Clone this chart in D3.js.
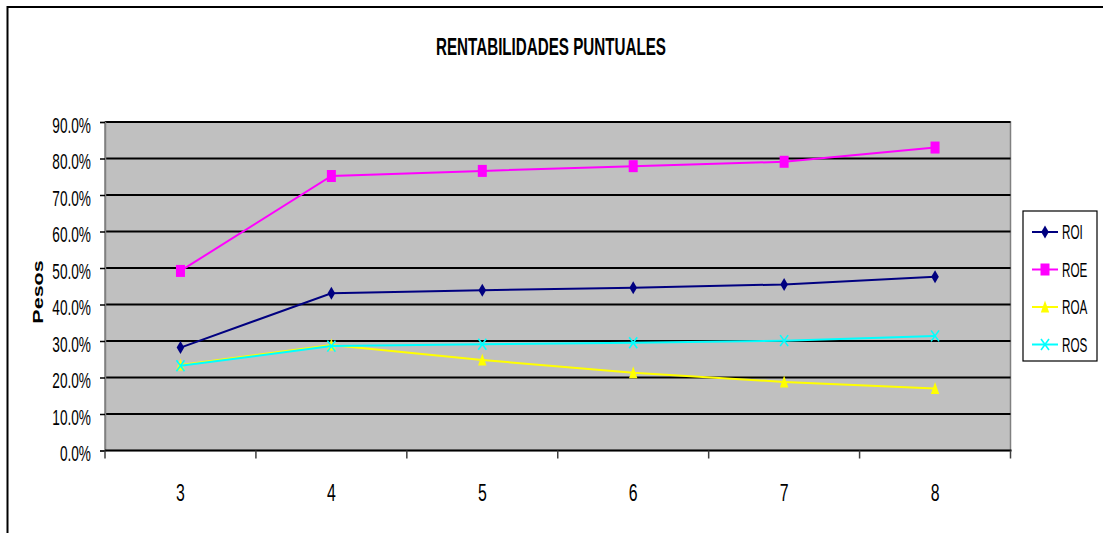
<!DOCTYPE html>
<html>
<head>
<meta charset="utf-8">
<script src="https://cdn.jsdelivr.net/npm/d3@7"></script>
<style>
  html, body { margin: 0; padding: 0; background: #fff; }
  svg { display: block; font-family: "Liberation Sans", Arial, sans-serif; }
</style>
</head>
<body>
<svg id="chart" width="1103" height="533"></svg>
<script>
// Periods on the horizontal axis
const categories = ["3", "4", "5", "6", "7", "8"];

// Ratios per period (fractions)
const roi = [0.282, 0.431, 0.439, 0.446, 0.455, 0.476];
const roe = [0.492, 0.752, 0.766, 0.779, 0.791, 0.830];
const roa = [0.234, 0.289, 0.248, 0.213, 0.188, 0.170];
const ros = [0.232, 0.286, 0.291, 0.295, 0.301, 0.314];

const seriesNames = ["ROI", "ROE", "ROA", "ROS"];
const seriesColors = ["#000080", "#FF00FF", "#FFFF00", "#00FFFF"];
const seriesMarkers = ["diamond", "square", "triangle", "cross"];

// Value axis tick values
const yTicks = [0, 0.1, 0.2, 0.3, 0.4, 0.5, 0.6, 0.7, 0.8, 0.9];

const series = seriesNames.map((name, i) => ({
  name,
  color: seriesColors[i],
  marker: seriesMarkers[i],
  values: [roi, roe, roa, ros][i]
}));

const svg = d3.select("#chart");
const plot = { left: 105, right: 1010.5, top: 122, bottom: 450.5 };
const SX = 0.62; // horizontal squeeze applied to glyphs

const x = d3.scaleBand().domain(categories).range([plot.left, plot.right]).padding(0);
const y = d3.scaleLinear().domain([0, 0.9]).range([plot.bottom, plot.top]);
const fmt = d3.format(".1%");

// Outer chart frame (top and left edges)
svg.append("path")
  .attr("d", "M7.5,533 L7.5,7 L1103,7")
  .attr("fill", "none").attr("stroke", "#000").attr("stroke-width", 2);

// Plot background
svg.append("rect")
  .attr("x", plot.left).attr("y", plot.top)
  .attr("width", plot.right - plot.left).attr("height", plot.bottom - plot.top)
  .attr("fill", "#C0C0C0").attr("stroke", "#808080").attr("stroke-width", 1.5);

// Horizontal gridlines
svg.append("g").selectAll("line").data(yTicks.slice(1)).join("line")
  .attr("x1", plot.left).attr("x2", plot.right)
  .attr("y1", d => y(d)).attr("y2", d => y(d))
  .attr("stroke", "#000").attr("stroke-width", 2);

// Value axis
const yAxis = svg.append("g")
  .attr("transform", `translate(${plot.left},0)`)
  .call(d3.axisLeft(y).tickValues(yTicks).tickFormat(fmt).tickSize(5).tickPadding(0));
yAxis.select(".domain").attr("stroke", "#808080").attr("stroke-width", 1.5);
yAxis.selectAll(".tick line").attr("stroke", "#000").attr("stroke-width", 1.5);
yAxis.selectAll(".tick text")
  .attr("x", null).attr("dy", null)
  .attr("font-size", 22).attr("fill", "#000")
  .attr("text-anchor", "end")
  .attr("transform", `translate(-14,10) scale(${SX},1)`);

// Category axis
const xAxis = svg.append("g")
  .attr("transform", `translate(0,${plot.bottom})`);
xAxis.append("line")
  .attr("x1", plot.left).attr("x2", plot.right + 1)
  .attr("stroke", "#000").attr("stroke-width", 2);
const edges = categories.map(c => x(c)).concat([x(categories[categories.length - 1]) + x.bandwidth()]);
xAxis.selectAll(".edge").data(edges).join("line")
  .attr("class", "edge")
  .attr("x1", d => d).attr("x2", d => d)
  .attr("y1", 0).attr("y2", 8)
  .attr("stroke", "#404040").attr("stroke-width", 1.5);
xAxis.selectAll("text").data(categories).join("text")
  .attr("font-size", 24).attr("fill", "#000").attr("text-anchor", "middle")
  .attr("transform", d => `translate(${x(d) + x.bandwidth() / 2},50) scale(${SX + 0.04},1)`)
  .text(d => d);

// Axis title
svg.append("text")
  .attr("font-size", 21.5).attr("font-weight", "bold").attr("text-anchor", "middle")
  .attr("transform", `translate(43,292) scale(0.69,1) rotate(-90)`)
  .text("Pesos");

// Chart title
svg.append("text")
  .attr("font-size", 24.5).attr("font-weight", "bold").attr("text-anchor", "middle")
  .attr("transform", `translate(551,54.5) scale(${SX},1)`)
  .text("RENTABILIDADES PUNTUALES");

// Marker shapes
function drawMarker(g, type, color) {
  if (type === "diamond") {
    g.append("path").attr("d", "M0,-6.5L3.8,0L0,6.5L-3.8,0Z").attr("fill", color);
  } else if (type === "square") {
    g.append("rect").attr("x", -4.5).attr("y", -6).attr("width", 9).attr("height", 12).attr("fill", color);
  } else if (type === "triangle") {
    g.append("path").attr("d", "M0,-6.5L4.2,5.5L-4.2,5.5Z").attr("fill", color);
  } else if (type === "cross") {
    g.append("path").attr("d", "M-4,-5.5L4,5.5M-4,5.5L4,-5.5")
      .attr("stroke", color).attr("stroke-width", 1.6).attr("fill", "none");
  }
}

const line = d3.line()
  .x((d, i) => x(categories[i]) + x.bandwidth() / 2)
  .y(d => y(d));

series.forEach(s => {
  const g = svg.append("g");
  g.append("path").datum(s.values)
    .attr("d", line).attr("fill", "none")
    .attr("stroke", s.color).attr("stroke-width", 2);
  s.values.forEach((v, i) => {
    const m = g.append("g")
      .attr("transform", `translate(${x(categories[i]) + x.bandwidth() / 2},${y(v)})`);
    drawMarker(m, s.marker, s.color);
  });
});

// Legend
const legend = svg.append("g");
legend.append("rect")
  .attr("x", 1023).attr("y", 211).attr("width", 74).attr("height", 150)
  .attr("fill", "#fff").attr("stroke", "#000").attr("stroke-width", 1.2);
series.forEach((s, i) => {
  const cy = 232 + i * 37.5;
  const item = legend.append("g");
  item.append("line").attr("x1", 1032).attr("x2", 1058).attr("y1", cy).attr("y2", cy)
    .attr("stroke", s.color).attr("stroke-width", 2);
  drawMarker(item.append("g").attr("transform", `translate(1045,${cy})`), s.marker, s.color);
  item.append("text")
    .attr("font-size", 19.5).attr("fill", "#000")
    .attr("transform", `translate(1062,${cy + 7}) scale(0.6,1)`)
    .text(s.name);
});
</script>
</body>
</html>
